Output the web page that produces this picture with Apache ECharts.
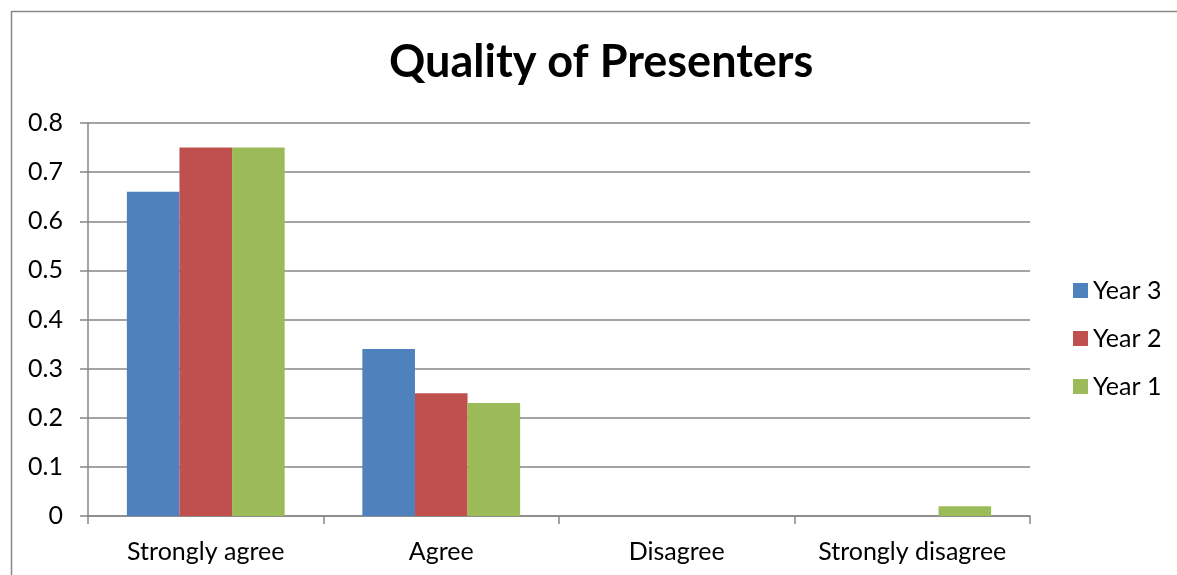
<!DOCTYPE html>
<html>
<head>
<meta charset="utf-8">
<script src="https://cdn.jsdelivr.net/npm/echarts@6/dist/echarts.min.js"></script>
<style>
  html, body { margin: 0; padding: 0; background: #fff; }
  #chart { width: 1177px; height: 575px; }
</style>
</head>
<body>
<div id="chart"></div>
<script>
// Survey responses by year
const categories = ['Strongly agree', 'Agree', 'Disagree', 'Strongly disagree'];
const year3 = [0.66, 0.34, 0, 0];
const year2 = [0.75, 0.25, 0, 0];
const year1 = [0.75, 0.23, 0, 0.02];
const yTicks = { min: 0, max: 0.8, interval: 0.1 };

const FONT = 'Lato, "Open Sans", sans-serif';
const GRID_GRAY = '#868686';

const chart = echarts.init(document.getElementById('chart'), null, { renderer: 'canvas' });

function barSeries(name, data, color) {
  return {
    name: name,
    type: 'bar',
    data: data,
    barGap: '0%',
    barCategoryGap: '33%',
    itemStyle: { color: color },
    emphasis: { disabled: true }
  };
}

chart.setOption({
  animation: false,
  backgroundColor: '#fff',
  graphic: [{
    type: 'rect',
    shape: { x: 11.5, y: 11.5, width: 1200, height: 600 },
    style: { fill: 'none', stroke: GRID_GRAY, lineWidth: 1.5 },
    silent: true
  }],
  title: {
    text: 'Quality of Presenters',
    left: 384,
    top: 35,
    textStyle: { fontFamily: FONT, fontWeight: 'bold', fontSize: 45, color: '#000' }
  },
  legend: {
    orient: 'vertical',
    left: 1068,
    top: 273,
    itemWidth: 15,
    itemHeight: 15,
    itemGap: 23,
    icon: 'rect',
    textStyle: { fontFamily: FONT, fontSize: 25, color: '#000', lineHeight: 25 },
    data: ['Year 3', 'Year 2', 'Year 1']
  },
  grid: { left: 88, right: 147, top: 123, bottom: 59, containLabel: false },
  xAxis: {
    type: 'category',
    data: categories,
    boundaryGap: true,
    axisLine: { lineStyle: { color: GRID_GRAY, width: 1.5 } },
    axisTick: { show: true, interval: 0, length: 8, inside: false, lineStyle: { color: GRID_GRAY, width: 1.5 } },
    axisLabel: { interval: 0, hideOverlap: false, fontFamily: FONT, fontSize: 25, color: '#000', margin: 23 }
  },
  yAxis: {
    type: 'value',
    min: yTicks.min,
    max: yTicks.max,
    interval: yTicks.interval,
    axisLine: { show: true, lineStyle: { color: GRID_GRAY, width: 1.5 } },
    axisTick: { show: true, length: 8, lineStyle: { color: GRID_GRAY, width: 1.5 } },
    axisLabel: { fontFamily: FONT, fontSize: 25, color: '#000', margin: 25 },
    splitLine: { show: true, lineStyle: { color: GRID_GRAY, width: 1.5 } }
  },
  series: [
    barSeries('Year 3', year3, '#4F81BD'),
    barSeries('Year 2', year2, '#C0504D'),
    barSeries('Year 1', year1, '#9BBB59')
  ]
});
</script>
</body>
</html>
